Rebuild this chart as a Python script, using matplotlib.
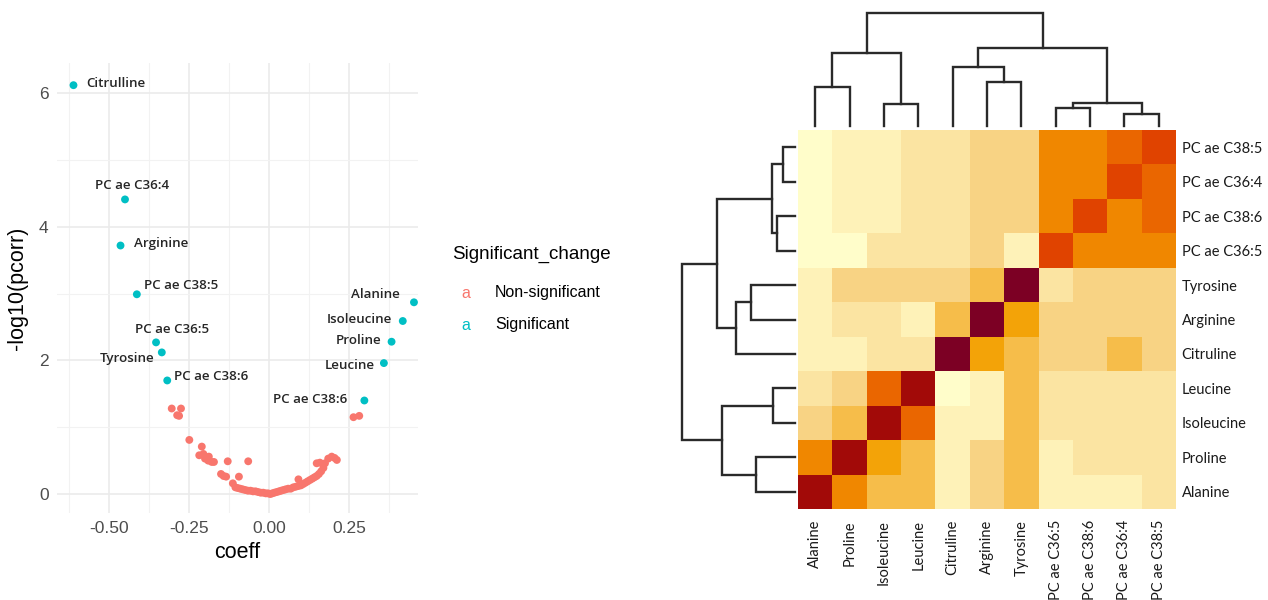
import numpy as np
import matplotlib.pyplot as plt
from matplotlib.colors import ListedColormap, BoundaryNorm

W, H = 1268, 600

# ---- volcano plot data ----
sig_names = ['Citrulline', 'PC ae C36:4', 'Arginine', 'PC ae C38:5', 'PC ae C36:5', 'Tyrosine',
             'PC ae C38:6', 'PC ae C38:6', 'Leucine', 'Proline', 'Isoleucine', 'Alanine']
sig_coeff = [-0.611, -0.450, -0.464, -0.413, -0.353, -0.335, -0.318, 0.298, 0.359, 0.383, 0.418, 0.453]
sig_logp = [6.12, 4.41, 3.72, 2.99, 2.27, 2.12, 1.70, 1.40, 1.96, 2.28, 2.59, 2.87]

nonsig_coeff = [-0.304, -0.275, -0.287, -0.281, -0.249, -0.210, -0.218, -0.200, -0.190, -0.179,
                -0.172, -0.188, -0.205, -0.129, -0.065, -0.150, -0.142, -0.134, -0.094, -0.113,
                -0.105, -0.098, -0.090, -0.082, -0.074, -0.066, -0.058, -0.050, -0.042, -0.034,
                -0.026, -0.018, -0.010, -0.003, 0.004, 0.010, 0.017, 0.024, 0.031, 0.038,
                0.045, 0.052, 0.060, 0.068, 0.076, 0.084, 0.092, 0.100, 0.107, 0.114,
                0.121, 0.128, 0.135, 0.142, 0.149, 0.156, 0.163, 0.170, 0.092, 0.149,
                0.159, 0.175, 0.185, 0.196, 0.212, 0.205, 0.264, 0.282]
nonsig_logp = [1.28, 1.28, 1.18, 1.17, 0.81, 0.71, 0.58, 0.53, 0.50, 0.48,
               0.48, 0.56, 0.60, 0.49, 0.49, 0.30, 0.27, 0.26, 0.26, 0.16,
               0.10, 0.09, 0.08, 0.07, 0.06, 0.05, 0.05, 0.04, 0.04, 0.03,
               0.02, 0.02, 0.01, 0.01, 0.00, 0.01, 0.02, 0.03, 0.04, 0.05,
               0.06, 0.07, 0.08, 0.08, 0.10, 0.11, 0.12, 0.13, 0.15, 0.17,
               0.19, 0.21, 0.23, 0.25, 0.27, 0.30, 0.34, 0.39, 0.22, 0.46,
               0.47, 0.46, 0.53, 0.56, 0.51, 0.54, 1.15, 1.17]

# label placement (pixel offsets from the point, horizontal alignment)
label_offsets = [(13, 2, 'left'), (7, 14, 'center'), (13, 2, 'left'), (7, 9, 'left'),
                 (16, 13, 'center'), (-7, -6, 'right'), (7, 4, 'left'), (-17, 1, 'right'),
                 (-9, -2, 'right'), (-10, 1, 'right'), (-11, 2, 'right'), (-14, 8, 'right')]

# ---- heatmap data ----
hm_labels = ['Alanine', 'Proline', 'Isoleucine', 'Leucine', 'Citruline', 'Arginine', 'Tyrosine',
             'PC ae C36:5', 'PC ae C38:6', 'PC ae C36:4', 'PC ae C38:5']
# colour level of each cell, rows in hm_labels order (bottom row first)
heat_levels = [
    [9, 6, 4, 4, 1, 3, 4, 1, 1, 1, 2],   # Alanine
    [6, 9, 5, 4, 1, 3, 4, 1, 2, 2, 2],   # Proline
    [3, 4, 9, 7, 1, 1, 4, 2, 2, 2, 2],   # Isoleucine
    [2, 3, 7, 9, 0, 1, 4, 2, 2, 2, 2],   # Leucine
    [1, 1, 2, 2, 10, 5, 4, 3, 3, 4, 3],  # Citruline
    [1, 2, 2, 1, 4, 10, 5, 3, 3, 3, 3],  # Arginine
    [1, 3, 3, 3, 3, 4, 10, 2, 3, 3, 3],  # Tyrosine
    [0, 0, 2, 2, 2, 3, 1, 8, 6, 6, 6],   # PC ae C36:5
    [0, 1, 1, 2, 2, 3, 3, 6, 8, 6, 7],   # PC ae C38:6
    [0, 1, 1, 2, 2, 3, 3, 6, 6, 8, 7],   # PC ae C36:4
    [0, 1, 1, 2, 2, 3, 3, 6, 6, 7, 8],   # PC ae C38:5
]
heat_colors = ['#fffdca', '#fef2b8', '#fbe4a2', '#f8d384', '#f6bd4a', '#f3a308',
               '#f08700', '#ea6600', '#e04300', '#a20a08', '#7c0024']

# hierarchical clustering: (child a, child b, merge height); leaves 0-10, merges 11+
merges = [(0, 1, 39), (2, 3, 22), (11, 12, 73), (5, 6, 44), (4, 14, 59),
          (7, 8, 18), (9, 10, 12), (16, 17, 23), (15, 18, 78), (13, 19, 113)]


def dendro_links(merges, n):
    pos = {i: i + 0.5 for i in range(n)}
    hgt = {i: 0.0 for i in range(n)}
    links = []
    for k, (a, b, h) in enumerate(merges):
        links.append((pos[a], pos[b], hgt[a], hgt[b], h))
        pos[n + k] = (pos[a] + pos[b]) / 2
        hgt[n + k] = h
    return links


fig = plt.figure(figsize=(W / 100, H / 100), dpi=100)

# ---- volcano ----
ax = fig.add_axes([57 / W, 1 - 513 / H, 361 / W, 450 / H])
ax.set_xlim(-0.6625, 0.4656)
ax.set_ylim(-0.284, 6.452)
ax.set_xticks([-0.5, -0.25, 0, 0.25])
ax.set_xticklabels(['-0.50', '-0.25', '0.00', '0.25'])
ax.set_yticks([0, 2, 4, 6])
ax.set_xticks([-0.625, -0.375, -0.125, 0.125, 0.375], minor=True)
ax.set_yticks([1, 3, 5], minor=True)
ax.grid(which='major', color='#ebebeb', lw=1.2)
ax.grid(which='minor', color='#f2f2f2', lw=0.8)
ax.set_axisbelow(True)
for s in ax.spines.values():
    s.set_visible(False)
ax.tick_params(which='both', length=0)
ax.tick_params(axis='both', labelsize=12.5, labelcolor='#4d4d4d', pad=6)
for t in ax.get_xticklabels() + ax.get_yticklabels():
    t.set_family('Liberation Sans')
ax.set_xlabel('coeff', fontsize=15.5, family='Liberation Sans', labelpad=4)
ax.set_ylabel('-log10(pcorr)', fontsize=15.5, family='Liberation Sans', labelpad=8)

ax.scatter(nonsig_coeff, nonsig_logp, s=32, color='#F8766D', edgecolors='none', zorder=3)
ax.scatter(sig_coeff, sig_logp, s=32, color='#00BFC4', edgecolors='none', zorder=3)
for name, x, y, (dx, dy, ha) in zip(sig_names, sig_coeff, sig_logp, label_offsets):
    ax.annotate(name, (x, y), xytext=(dx, dy), textcoords='offset pixels',
                ha=ha, va='center', fontsize=9.6, family='Open Sans', fontweight='semibold',
                color='#262626')

# legend drawn as text keys like ggplot
fig.text(452 / W, 1 - 254 / H, 'Significant_change', fontsize=13.5, family='Liberation Sans',
         va='center', ha='left')
for i, (lab, col) in enumerate([('Non-significant', '#F8766D'), ('Significant', '#00BFC4')]):
    yy = 1 - (293 + 32 * i) / H
    fig.text(466 / W, yy, 'a', fontsize=11.5, family='Liberation Sans', color=col, va='center', ha='center')
    fig.text(495 / W, yy, lab, fontsize=11.5, family='Liberation Sans', va='center', ha='left')

# ---- heatmap ----
n = len(hm_labels)
hx0, hx1, hy0, hy1 = 798, 1176, 130, 509
axh = fig.add_axes([hx0 / W, 1 - hy1 / H, (hx1 - hx0) / W, (hy1 - hy0) / H])
cmap = ListedColormap(heat_colors)
norm = BoundaryNorm(np.arange(-0.5, len(heat_colors) + 0.5), cmap.N)
axh.pcolormesh(np.array(heat_levels), cmap=cmap, norm=norm)
axh.set_xlim(0, n)
axh.set_ylim(0, n)
for s in axh.spines.values():
    s.set_visible(False)
axh.yaxis.tick_right()
axh.set_yticks(np.arange(n) + 0.5)
axh.set_yticklabels(hm_labels, fontsize=10.5, family='Lato', color='#1a1a1a')
axh.set_xticks(np.arange(n) + 0.5)
axh.set_xticklabels(hm_labels, rotation=90, fontsize=10.5, family='Lato', color='#1a1a1a')
axh.tick_params(length=0)
axh.tick_params(axis='y', pad=4)
axh.tick_params(axis='x', pad=8)

links = dendro_links(merges, n)

axt = fig.add_axes([hx0 / W, 1 - 126 / H, (hx1 - hx0) / W, 113 / H])
axt.set_xlim(0, n)
axt.set_ylim(0, 113)
axt.axis('off')
for xa, xb, ha_, hb, h in links:
    axt.plot([xa, xa, xb, xb], [ha_, h, h, hb], color='#2a2a2a', lw=1.7, clip_on=False,
             solid_joinstyle='miter')

axl = fig.add_axes([681.5 / W, 1 - hy1 / H, 113 / W, (hy1 - hy0) / H])
axl.set_ylim(0, n)
axl.set_xlim(113, 0)
axl.axis('off')
for xa, xb, ha_, hb, h in links:
    axl.plot([ha_, h, h, hb], [xa, xa, xb, xb], color='#2a2a2a', lw=1.7, clip_on=False,
             solid_joinstyle='miter')

fig.savefig('out.png', dpi=100)
